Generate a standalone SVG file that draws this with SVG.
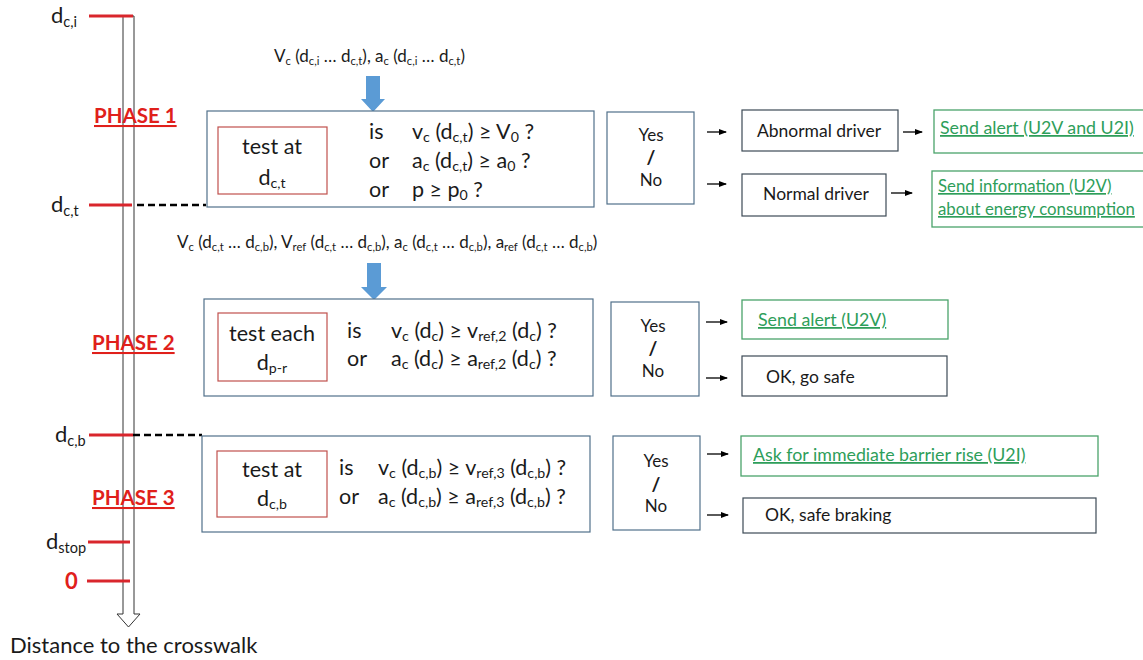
<svg xmlns="http://www.w3.org/2000/svg" width="1143" height="660" viewBox="0 0 1143 660">
<style>
  text { font-family: Lato, "Open Sans", "Liberation Sans", sans-serif; fill: #1a1a1a; }
  .box { fill: #fff; stroke: #50708a; stroke-width: 1.2; }
  .plain { fill: #fff; stroke: #3c4a55; stroke-width: 1.2; }
  .redbox { fill: #fff; stroke: #c0504d; stroke-width: 1.2; }
  .greenbox { fill: #fff; stroke: #4aa36a; stroke-width: 1.3; }
  .tick { stroke: #d9262c; stroke-width: 3; }
  .dash { stroke: #000; stroke-width: 2.5; stroke-dasharray: 7 4; }
  .phase { font-size: 20.5px; font-weight: bold; fill: #e0201b; text-decoration: underline; }
  .axis { font-size: 22px; }
  .f { font-size: 21.5px; }
  .cap { font-size: 17px; }
  .t { font-size: 17.5px; }
  .g { font-size: 17.8px; fill: #2e9e5a; text-decoration: underline; }
  .yn { font-size: 17px; text-anchor: middle; }
  .sub { font-size: 66%; baseline-shift: -24%; }
  .small { stroke: #000; stroke-width: 1.3; marker-end: url(#ah); }
  .blue { fill: #5b9bd5; }
</style>
<defs>
  <marker id="ah" markerWidth="8" markerHeight="8" refX="7" refY="4" orient="auto" markerUnits="userSpaceOnUse">
    <path d="M0,1 L8,4 L0,7 Z" fill="#000"/>
  </marker>
</defs>

<!-- distance axis: hollow double-line arrow -->
<g id="axis">
  <path d="M123,16 L134,16 L134,614 L140,614 L128.5,627 L117,614 L123,614 Z" fill="#fff" stroke="#333" stroke-width="1"/>
  <line class="tick" x1="89" y1="16" x2="133" y2="16"/>
  <line class="tick" x1="89" y1="205" x2="132" y2="205"/>
  <line class="tick" x1="89" y1="435" x2="133" y2="435"/>
  <line class="tick" x1="88" y1="542" x2="130" y2="542"/>
  <line class="tick" x1="87" y1="581" x2="130" y2="581"/>
  <text class="axis" x="51" y="23">d<tspan class="sub">c,i</tspan></text>
  <text class="axis" x="51" y="212">d<tspan class="sub">c,t</tspan></text>
  <text class="axis" x="55" y="442">d<tspan class="sub">c,b</tspan></text>
  <text class="axis" x="46" y="549">d<tspan class="sub">stop</tspan></text>
  <text class="axis" x="65" y="589" style="fill:#e0201b;font-weight:bold">0</text>
  <text class="phase" x="94" y="123">PHASE 1</text>
  <text class="phase" x="92" y="350">PHASE 2</text>
  <text class="phase" x="92" y="505">PHASE 3</text>
  <text class="axis" x="10" y="653">Distance to the crosswalk</text>
</g>

<!-- connectors -->
<g id="connectors">
  <line class="dash" x1="137" y1="205" x2="206" y2="205"/>
  <line class="dash" x1="133" y1="435" x2="202" y2="435"/>
  <path class="blue" d="M366,76 H380 V99 H385 L373,112 L361,99 H366 Z"/>
  <path class="blue" d="M367,263 H381 V287 H387 L374,300 L361,287 H367 Z"/>
  <line class="small" x1="707" y1="132" x2="726" y2="132"/>
  <line class="small" x1="707" y1="184" x2="726" y2="184"/>
  <line class="small" x1="903" y1="132" x2="922" y2="132"/>
  <line class="small" x1="891" y1="193" x2="912" y2="193"/>
  <line class="small" x1="706" y1="322" x2="727" y2="322"/>
  <line class="small" x1="706" y1="378" x2="727" y2="378"/>
  <line class="small" x1="707" y1="454" x2="728" y2="454"/>
  <line class="small" x1="707" y1="515" x2="728" y2="515"/>
</g>

<!-- phase 1 -->
<g id="input1">
  <text class="cap" x="274" y="62">V<tspan class="sub">c</tspan> (d<tspan class="sub">c,i</tspan> … d<tspan class="sub">c,t</tspan>), a<tspan class="sub">c</tspan> (d<tspan class="sub">c,i</tspan> … d<tspan class="sub">c,t</tspan>)</text>
</g>
<g id="test1">
  <rect class="box" x="207" y="111" width="387" height="96"/>
  <rect class="redbox" x="218" y="127" width="109" height="67"/>
  <text class="f" x="272" y="154" text-anchor="middle">test at</text>
  <text class="f" x="272" y="185" text-anchor="middle">d<tspan class="sub">c,t</tspan></text>
  <text class="f" x="369" y="139">is</text>
  <text class="f" x="412" y="139">v<tspan class="sub">c</tspan> (d<tspan class="sub">c,t</tspan>) ≥ V<tspan class="sub">0</tspan> ?</text>
  <text class="f" x="369" y="168">or</text>
  <text class="f" x="412" y="168">a<tspan class="sub">c</tspan> (d<tspan class="sub">c,t</tspan>) ≥ a<tspan class="sub">0</tspan> ?</text>
  <text class="f" x="369" y="197">or</text>
  <text class="f" x="412" y="197">p ≥ p<tspan class="sub">0</tspan> ?</text>
</g>
<g id="yn1">
  <rect class="box" x="607" y="112" width="87" height="92"/>
  <text class="yn" x="651" y="141">Yes</text>
  <text class="yn" x="651" y="164" style="font-weight:bold;font-size:19px">/</text>
  <text class="yn" x="651" y="186">No</text>
</g>
<g id="abnormal">
  <rect class="plain" x="742" y="110" width="156" height="41"/>
  <text class="t" x="819" y="137" text-anchor="middle">Abnormal driver</text>
</g>
<g id="normal">
  <rect class="plain" x="742" y="174" width="144" height="42"/>
  <text class="t" x="816" y="200" text-anchor="middle">Normal driver</text>
</g>
<g id="alert1">
  <rect class="greenbox" x="934" y="110" width="215" height="43"/>
  <text class="g" x="940" y="134">Send alert (U2V and U2I)</text>
</g>
<g id="info1">
  <rect class="greenbox" x="932" y="171" width="215" height="56"/>
  <text class="g" x="938" y="192" style="font-size:16.8px">Send information (U2V)</text>
  <text class="g" x="938" y="215" style="font-size:16.8px">about energy consumption</text>
</g>

<!-- phase 2 -->
<g id="input2">
  <text class="cap" x="177" y="248">V<tspan class="sub">c</tspan> (d<tspan class="sub">c,t</tspan> … d<tspan class="sub">c,b</tspan>), V<tspan class="sub">ref</tspan> (d<tspan class="sub">c,t</tspan> … d<tspan class="sub">c,b</tspan>), a<tspan class="sub">c</tspan> (d<tspan class="sub">c,t</tspan> … d<tspan class="sub">c,b</tspan>), a<tspan class="sub">ref</tspan> (d<tspan class="sub">c,t</tspan> … d<tspan class="sub">c,b</tspan>)</text>
</g>
<g id="test2">
  <rect class="box" x="204" y="299" width="389" height="97"/>
  <rect class="redbox" x="218" y="313" width="109" height="68"/>
  <text class="f" x="272" y="341" text-anchor="middle">test each</text>
  <text class="f" x="272" y="370" text-anchor="middle">d<tspan class="sub">p-r</tspan></text>
  <text class="f" x="347" y="338">is</text>
  <text class="f" x="391" y="338">v<tspan class="sub">c</tspan> (d<tspan class="sub">c</tspan>) ≥ v<tspan class="sub">ref,2</tspan> (d<tspan class="sub">c</tspan>) ?</text>
  <text class="f" x="347" y="366">or</text>
  <text class="f" x="391" y="366">a<tspan class="sub">c</tspan> (d<tspan class="sub">c</tspan>) ≥ a<tspan class="sub">ref,2</tspan> (d<tspan class="sub">c</tspan>) ?</text>
</g>
<g id="yn2">
  <rect class="box" x="611" y="302" width="88" height="94"/>
  <text class="yn" x="653" y="332">Yes</text>
  <text class="yn" x="653" y="355" style="font-weight:bold;font-size:19px">/</text>
  <text class="yn" x="653" y="377">No</text>
</g>
<g id="alert2">
  <rect class="greenbox" x="742" y="300" width="206" height="39"/>
  <text class="g" x="758" y="326">Send alert (U2V)</text>
</g>
<g id="gosafe">
  <rect class="plain" x="742" y="356" width="205" height="40"/>
  <text class="t" x="766" y="383">OK, go safe</text>
</g>

<!-- phase 3 -->
<g id="test3">
  <rect class="box" x="202" y="436" width="388" height="96"/>
  <rect class="redbox" x="217" y="451" width="110" height="66"/>
  <text class="f" x="272" y="477" text-anchor="middle">test at</text>
  <text class="f" x="272" y="506" text-anchor="middle">d<tspan class="sub">c,b</tspan></text>
  <text class="f" x="339" y="475">is</text>
  <text class="f" x="378" y="475">v<tspan class="sub">c</tspan> (d<tspan class="sub">c,b</tspan>) ≥ v<tspan class="sub">ref,3</tspan> (d<tspan class="sub">c,b</tspan>) ?</text>
  <text class="f" x="339" y="504">or</text>
  <text class="f" x="378" y="504">a<tspan class="sub">c</tspan> (d<tspan class="sub">c,b</tspan>) ≥ a<tspan class="sub">ref,3</tspan> (d<tspan class="sub">c,b</tspan>) ?</text>
</g>
<g id="yn3">
  <rect class="box" x="613" y="436" width="87" height="94"/>
  <text class="yn" x="656" y="467">Yes</text>
  <text class="yn" x="656" y="491" style="font-weight:bold;font-size:19px">/</text>
  <text class="yn" x="656" y="512">No</text>
</g>
<g id="barrier">
  <rect class="greenbox" x="741" y="436" width="357" height="40"/>
  <text class="g" x="753" y="461">Ask for immediate barrier rise (U2I)</text>
</g>
<g id="braking">
  <rect class="plain" x="743" y="498" width="353" height="35"/>
  <text class="t" x="765" y="521">OK, safe braking</text>
</g>
</svg>
